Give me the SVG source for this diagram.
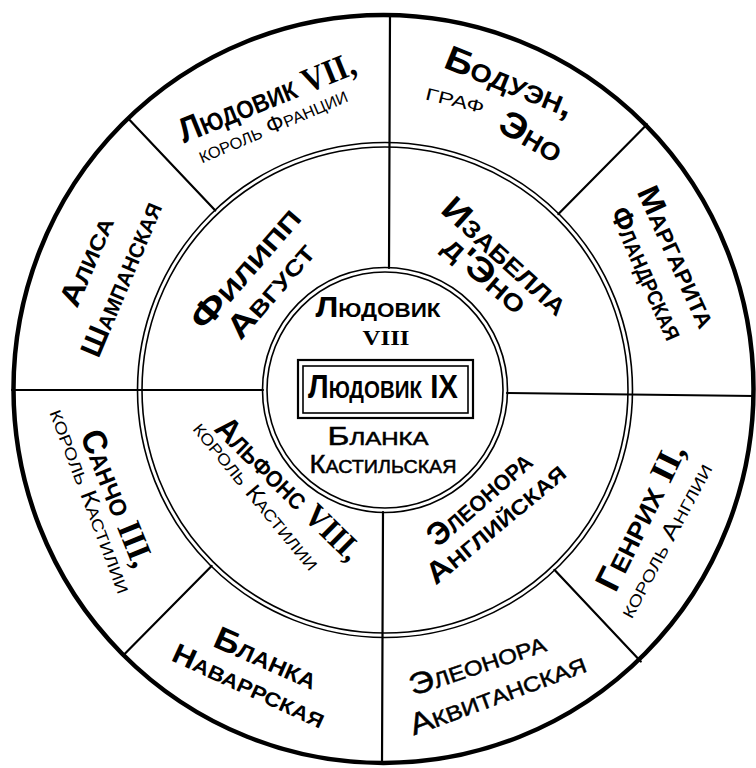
<svg xmlns="http://www.w3.org/2000/svg" width="756" height="768" viewBox="0 0 756 768">
<style>
text{font-family:"Liberation Sans","DejaVu Sans",sans-serif;font-variant:small-caps;text-anchor:middle;fill:#000}
.b{font-weight:bold}
.r{font-weight:normal}
.m{font-weight:normal;stroke:#000;stroke-width:0.5}
.n{font-family:"Liberation Serif","DejaVu Serif",serif;font-weight:bold}
.ring{fill:none;stroke:#000}
.div{stroke:#000;stroke-width:2.2;stroke-linecap:round}
</style>
<rect width="756" height="768" fill="#fff"/>
<g id="rings">
<ellipse class="ring" cx="383.5" cy="389" rx="370" ry="374" stroke-width="4.5"/>
<circle class="ring" cx="385" cy="390" r="247.5" stroke-width="1.6"/>
<circle class="ring" cx="385" cy="390" r="243" stroke-width="1.6"/>
<circle class="ring" cx="385" cy="390" r="122.5" stroke-width="1.6"/>
<circle class="ring" cx="385" cy="390" r="118" stroke-width="1.6"/>
</g>
<g id="connectors">
<line class="div" x1="390" y1="14" x2="389" y2="268"/>
<line class="div" x1="383" y1="512" x2="382" y2="764"/>
<line class="div" x1="12" y1="390" x2="263" y2="390"/>
<line class="div" x1="507" y1="393" x2="754" y2="396"/>
<line class="div" x1="215.3" y1="210.5" x2="128.7" y2="119"/>
<line class="div" x1="558.4" y1="214.1" x2="646.9" y2="124.4"/>
<line class="div" x1="211.6" y1="565.9" x2="123.1" y2="655.6"/>
<line class="div" x1="554.4" y1="569.8" x2="640.8" y2="661.5"/>
</g>
<g id="louis7">
<text class="b" font-size="35" transform="rotate(-22 385 390)" x="385" y="86" textLength="188" lengthAdjust="spacingAndGlyphs">Людовик <tspan class="n">VII,</tspan></text>
<text class="r" font-size="23" transform="rotate(-23 385 390)" x="385" y="110" textLength="160" lengthAdjust="spacingAndGlyphs">король Франции</text>
</g>
<g id="baudouin">
<text class="b" font-size="35" transform="rotate(22 385 390)" x="385" y="69" textLength="136" lengthAdjust="spacingAndGlyphs">Бодуэн,</text>
<text class="r" font-size="24" transform="rotate(13.6 385 390)" x="385" y="98" textLength="60" lengthAdjust="spacingAndGlyphs">граф</text>
<text class="b" font-size="36" transform="rotate(30 385 390)" x="385" y="109" textLength="68" lengthAdjust="spacingAndGlyphs">Эно</text>
</g>
<g id="margaret">
<text class="b" font-size="31" transform="rotate(65.5 385 390)" x="385" y="79" textLength="152" lengthAdjust="spacingAndGlyphs">Маргарита</text>
<text class="b" font-size="30" transform="rotate(66 385 390)" x="385" y="113" textLength="142" lengthAdjust="spacingAndGlyphs">Фландрская</text>
</g>
<g id="alix">
<text class="b" font-size="30" transform="rotate(-66.7 385 390)" x="385" y="75" textLength="95" lengthAdjust="spacingAndGlyphs">Алиса</text>
<text class="b" font-size="30" transform="rotate(-67.2 385 390)" x="385" y="114" textLength="165" lengthAdjust="spacingAndGlyphs">Шампанская</text>
</g>
<g id="philip">
<text class="b" font-size="34" transform="rotate(-49 385 390)" x="385" y="216" textLength="150" lengthAdjust="spacingAndGlyphs">Филипп</text>
<text class="b" font-size="32" transform="rotate(-49 385 390)" x="385" y="249" textLength="116" lengthAdjust="spacingAndGlyphs">Август</text>
</g>
<g id="isabella">
<text class="b" font-size="34" transform="rotate(42 385 390)" x="385" y="221" textLength="158" lengthAdjust="spacingAndGlyphs">Изабелла</text>
<text class="b" font-size="34" transform="rotate(41 385 390)" x="385" y="248" textLength="100" lengthAdjust="spacingAndGlyphs">д'Эно</text>
</g>
<g id="alfonso8">
<text class="b" font-size="33" transform="rotate(44.4 385 390)" x="385" y="539" textLength="190" lengthAdjust="spacingAndGlyphs">Альфонс <tspan class="n">VIII,</tspan></text>
<text class="r" font-size="23" transform="rotate(50.5 385 390)" x="385" y="564" textLength="185" lengthAdjust="spacingAndGlyphs">король Кастилии</text>
</g>
<g id="eleanor_en">
<text class="b" font-size="32" transform="rotate(-41 385 390)" x="385" y="544" textLength="128" lengthAdjust="spacingAndGlyphs">Элеонора</text>
<text class="b" font-size="30" transform="rotate(-39.7 385 390)" x="385" y="573" textLength="172" lengthAdjust="spacingAndGlyphs">Английская</text>
</g>
<g id="henry2">
<text class="b" font-size="35" transform="rotate(-63.6 385 390)" x="385" y="687" textLength="160" lengthAdjust="spacingAndGlyphs">Генрих <tspan class="n">II,</tspan></text>
<text class="r" font-size="23" transform="rotate(-61.8 385 390)" x="385" y="716" textLength="172" lengthAdjust="spacingAndGlyphs">король Англии</text>
</g>
<g id="eleanor_aq">
<text class="m" font-size="30" transform="rotate(-18.6 385 390)" x="385" y="689" textLength="142" lengthAdjust="spacingAndGlyphs">Элеонора</text>
<text class="m" font-size="30" transform="rotate(-20.3 385 390)" x="385" y="724" textLength="186" lengthAdjust="spacingAndGlyphs">Аквитанская</text>
</g>
<g id="blanca_nav">
<text class="b" font-size="32" transform="rotate(23.9 385 390)" x="385" y="694" textLength="110" lengthAdjust="spacingAndGlyphs">Бланка</text>
<text class="b" font-size="28" transform="rotate(24.7 385 390)" x="385" y="725" textLength="165" lengthAdjust="spacingAndGlyphs">Наваррская</text>
</g>
<g id="sancho3">
<text class="b" font-size="34" transform="rotate(68 385 390)" x="385" y="690" textLength="145" lengthAdjust="spacingAndGlyphs">Санчо <tspan class="n">III,</tspan></text>
<text class="r" font-size="23" transform="rotate(69.3 385 390)" x="385" y="712" textLength="195" lengthAdjust="spacingAndGlyphs">король Кастилии</text>
</g>
<g id="louis8">
<text class="b" font-size="29" x="378" y="317" textLength="125" lengthAdjust="spacingAndGlyphs">Людовик</text>
<text class="n" font-size="20" x="386" y="345" textLength="47" lengthAdjust="spacingAndGlyphs">VIII</text>
</g>
<g id="louis9">
<rect x="298" y="360" width="175" height="58" fill="none" stroke="#000" stroke-width="2.2"/>
<rect x="303" y="366" width="165" height="47" fill="none" stroke="#000" stroke-width="1.6"/>
<text class="b" font-size="33" x="383" y="398" textLength="150" lengthAdjust="spacingAndGlyphs">Людовик IX</text>
</g>
<g id="blanca_cas">
<text class="m" font-size="25" x="378" y="445" textLength="101" lengthAdjust="spacingAndGlyphs">Бланка</text>
<text class="m" font-size="25" x="383" y="473" textLength="147" lengthAdjust="spacingAndGlyphs">Кастильская</text>
</g>
</svg>
